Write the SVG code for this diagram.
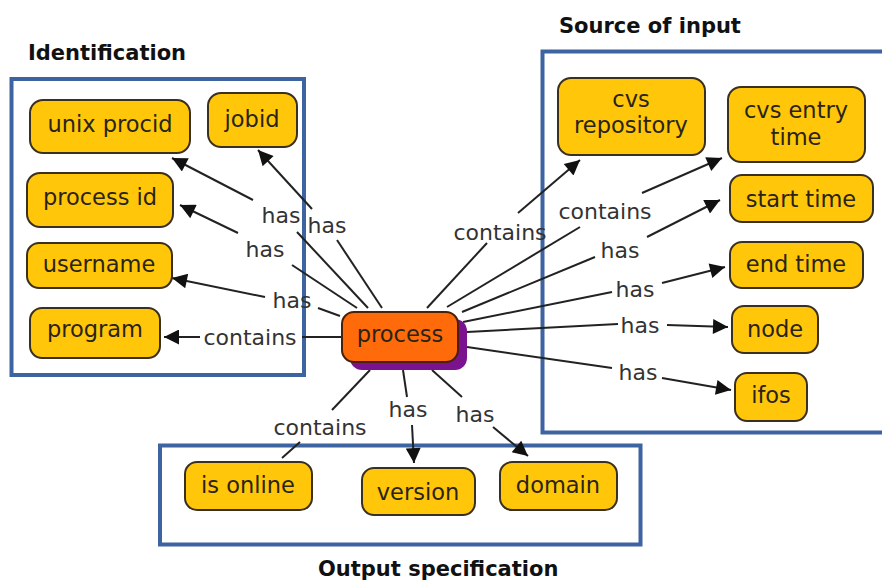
<svg xmlns="http://www.w3.org/2000/svg" width="882" height="580" viewBox="0 0 882 580">
<defs>
<marker id="arr" viewBox="0 0 10 10" refX="10" refY="5" markerWidth="18" markerHeight="15" markerUnits="userSpaceOnUse" orient="auto">
<path d="M0,0 L10,5 L0,10 z" fill="#111"/>
</marker>
<style>
.grp{fill:none;stroke:#3d64a0;stroke-width:4}
.title{font-family:"DejaVu Sans",Verdana,sans-serif;font-weight:bold;font-size:21px;fill:#111}
.nd{fill:#ffc60a;stroke:#3a3020;stroke-width:2}
.nt{font-family:"DejaVu Sans",Verdana,sans-serif;font-size:22.5px;fill:#2a2418;text-anchor:middle}
.lb{font-family:"DejaVu Sans",Verdana,sans-serif;font-size:22px;fill:#333;text-anchor:middle}
.c{fill:none;stroke:#222;stroke-width:2}
.ca{fill:none;stroke:#222;stroke-width:2;marker-end:url(#arr)}
</style>
</defs>
<rect width="882" height="580" fill="#fff"/>

<g id="group-identification">
<rect class="grp" x="11.5" y="79" width="292.5" height="296"/>
<text class="title" x="28" y="60">Identification</text>
</g>
<g id="group-source">
<rect class="grp" x="542.5" y="51.5" width="400" height="381"/>
<text class="title" x="559" y="33">Source of input</text>
</g>
<g id="group-output">
<rect class="grp" x="160" y="445.5" width="480.5" height="99"/>
<text class="title" x="318" y="576">Output specification</text>
</g>

<g id="connectors">
<line class="c" x1="368" y1="308" x2="297" y2="232"/>
<line class="ca" x1="253" y1="200" x2="172" y2="158"/>
<text class="lb" x="281" y="223">has</text>

<line class="c" x1="382" y1="308" x2="337" y2="240"/>
<line class="ca" x1="312" y1="209" x2="258" y2="150"/>
<text class="lb" x="327" y="233">has</text>

<line class="c" x1="357" y1="308" x2="292" y2="265"/>
<line class="ca" x1="238" y1="233" x2="180" y2="205"/>
<text class="lb" x="265" y="257">has</text>

<line class="c" x1="340" y1="316" x2="318" y2="308"/>
<line class="ca" x1="265" y1="297" x2="172" y2="278"/>
<text class="lb" x="292" y="308">has</text>

<line class="c" x1="342" y1="337" x2="302" y2="337"/>
<line class="ca" x1="200" y1="337" x2="164" y2="337"/>
<text class="lb" x="250" y="345">contains</text>

<line class="c" x1="427" y1="308" x2="487" y2="243"/>
<line class="ca" x1="518" y1="213" x2="580" y2="160"/>
<text class="lb" x="500" y="240">contains</text>

<line class="c" x1="447" y1="307" x2="580" y2="227"/>
<line class="ca" x1="642" y1="193" x2="722" y2="158"/>
<text class="lb" x="605" y="219">contains</text>

<line class="c" x1="462" y1="312" x2="595" y2="257"/>
<line class="ca" x1="647" y1="237" x2="720" y2="200"/>
<text class="lb" x="620" y="258">has</text>

<line class="c" x1="463" y1="322" x2="612" y2="292"/>
<line class="ca" x1="662" y1="283" x2="725" y2="267"/>
<text class="lb" x="635" y="297">has</text>

<line class="c" x1="467" y1="332" x2="618" y2="324"/>
<line class="ca" x1="667" y1="325" x2="728" y2="327"/>
<text class="lb" x="640" y="333">has</text>

<line class="c" x1="467" y1="347" x2="612" y2="368"/>
<line class="ca" x1="662" y1="378" x2="731" y2="390"/>
<text class="lb" x="638" y="380">has</text>

<line class="c" x1="370" y1="370" x2="332" y2="410"/>
<line class="c" x1="300" y1="442" x2="282" y2="458"/>
<text class="lb" x="320" y="435">contains</text>

<line class="c" x1="403" y1="370" x2="407" y2="397"/>
<line class="ca" x1="412" y1="425" x2="414" y2="463"/>
<text class="lb" x="408" y="417">has</text>

<line class="c" x1="432" y1="370" x2="462" y2="397"/>
<line class="ca" x1="493" y1="427" x2="528" y2="456"/>
<text class="lb" x="475" y="422">has</text>
</g>

<g id="node-process">
<rect x="350" y="319" width="117" height="51" rx="12" fill="#7b128e"/>
<rect x="342" y="312" width="116" height="50" rx="12" fill="#ff6a0a" stroke="#4a2008" stroke-width="2"/>
<text class="nt" x="400" y="342" fill="#3a1800">process</text>
</g>

<g id="node-unix-procid"><rect class="nd" x="30" y="100" width="160" height="53" rx="13"/><text class="nt" x="110" y="132">unix procid</text></g>
<g id="node-jobid"><rect class="nd" x="208" y="93" width="89" height="54" rx="13"/><text class="nt" x="252" y="127">jobid</text></g>
<g id="node-process-id"><rect class="nd" x="27" y="173" width="146" height="54" rx="13"/><text class="nt" x="100" y="205">process id</text></g>
<g id="node-username"><rect class="nd" x="27" y="243" width="145" height="45" rx="12"/><text class="nt" x="99" y="272">username</text></g>
<g id="node-program"><rect class="nd" x="30" y="308" width="130" height="50" rx="12"/><text class="nt" x="95" y="337">program</text></g>

<g id="node-cvs-repository"><rect class="nd" x="558" y="78" width="147" height="77" rx="13"/><text class="nt" x="631" y="107">cvs</text><text class="nt" x="631" y="133">repository</text></g>
<g id="node-cvs-entry-time"><rect class="nd" x="728" y="87" width="137" height="75" rx="13"/><text class="nt" x="796" y="118">cvs entry</text><text class="nt" x="796" y="145">time</text></g>
<g id="node-start-time"><rect class="nd" x="730" y="175" width="143" height="47" rx="12"/><text class="nt" x="801" y="207">start time</text></g>
<g id="node-end-time"><rect class="nd" x="730" y="242" width="133" height="46" rx="12"/><text class="nt" x="796" y="272">end time</text></g>
<g id="node-node"><rect class="nd" x="732" y="306" width="86" height="47" rx="12"/><text class="nt" x="775" y="337">node</text></g>
<g id="node-ifos"><rect class="nd" x="735" y="373" width="72" height="48" rx="12"/><text class="nt" x="771" y="403">ifos</text></g>

<g id="node-is-online"><rect class="nd" x="185" y="462" width="127" height="48" rx="12"/><text class="nt" x="248" y="493">is online</text></g>
<g id="node-version"><rect class="nd" x="362" y="468" width="113" height="47" rx="12"/><text class="nt" x="418" y="500">version</text></g>
<g id="node-domain"><rect class="nd" x="500" y="462" width="117" height="48" rx="12"/><text class="nt" x="558" y="493">domain</text></g>
</svg>
